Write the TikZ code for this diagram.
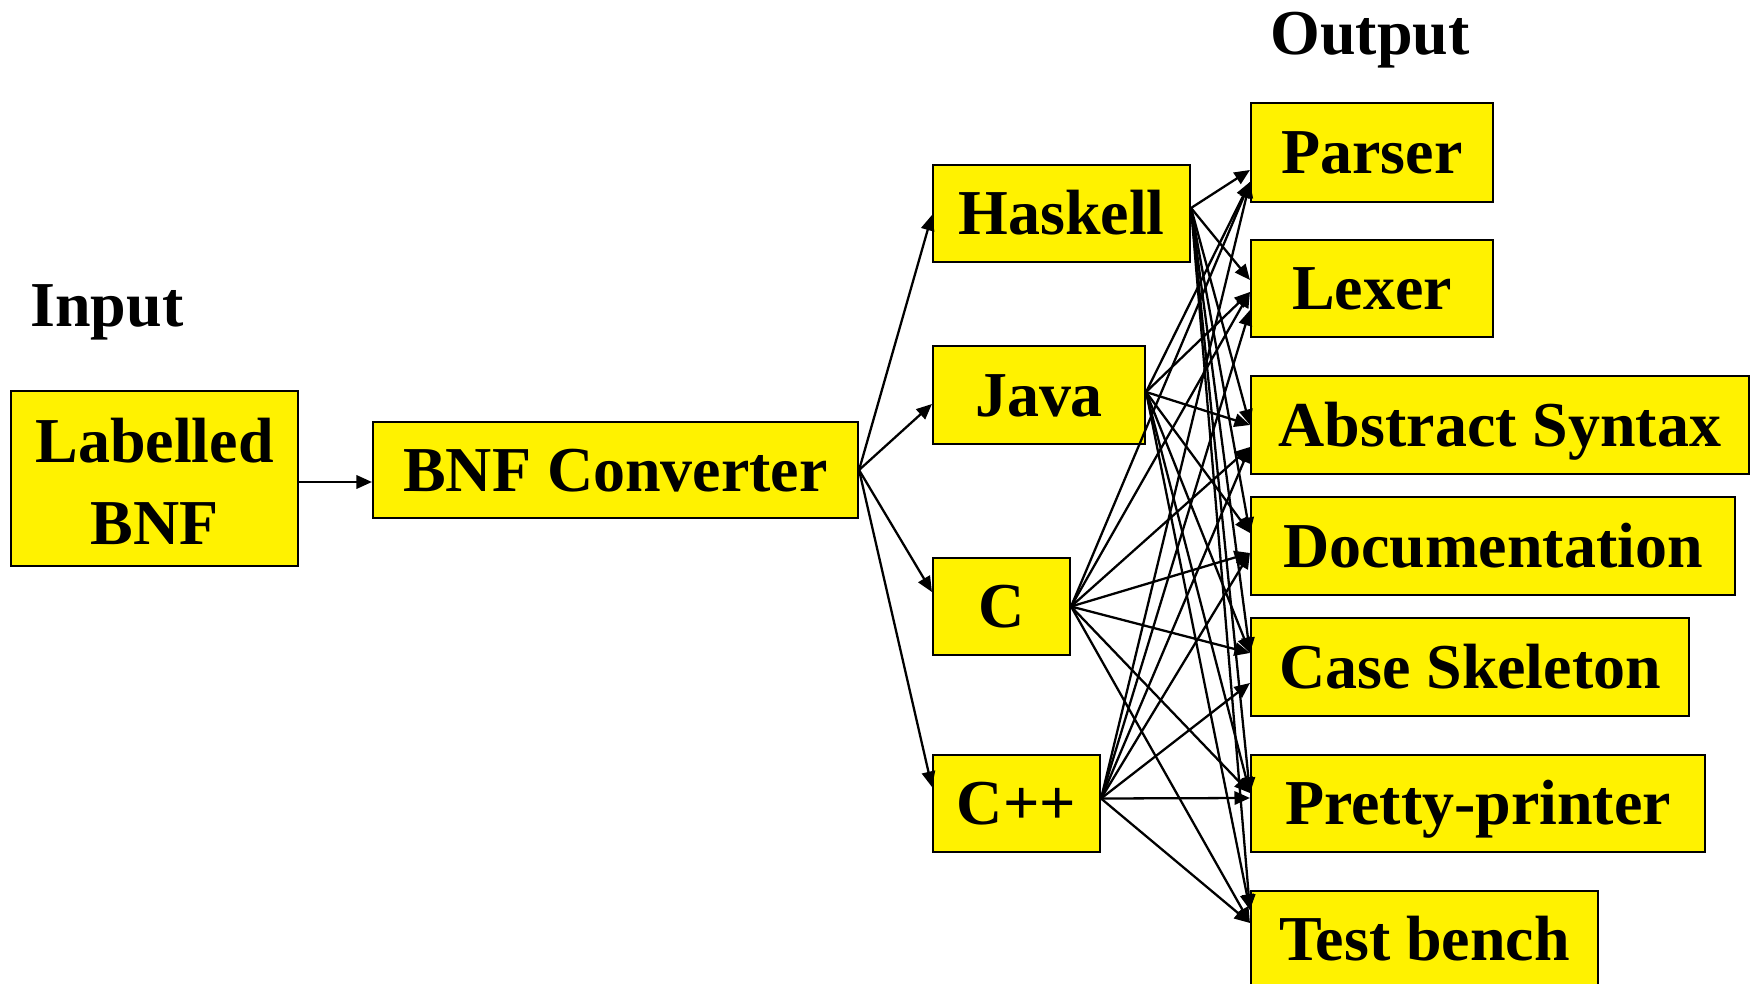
\documentclass[tikz,border=0pt]{standalone}
\usepackage{fontspec}
\setmainfont{Liberation Serif}
\usetikzlibrary{arrows.meta}
\begin{document}
\begin{tikzpicture}[x=0.1mm,y=-0.1mm,
  boxbase/.style={draw=black, line width=0.6pt, fill=yellow, inner sep=0pt,
    minimum height=9.7mm, font=\fontsize{18.2pt}{23.3pt}\selectfont\bfseries},
  box/.style={boxbase, text height=12pt, text depth=0pt},
  arr/.style={line width=0.65pt, -{Triangle[length=4.4pt,width=3.8pt]}},
  head/.style={anchor=base, inner sep=0pt, font=\fontsize{18.2pt}{23.3pt}\selectfont\bfseries}
]
\useasboundingbox (0,0) rectangle (1756,984);

% column titles
\node[head] (intitle)  at (107,327) {Input};
\node[head] (outtitle) at (1370,55) {Output};

% input and converter
\node[boxbase, minimum width=28.7mm, minimum height=17.5mm, align=center] (lbnf) at (154.5,478.5) {\rule{0pt}{14.4pt}Labelled\\BNF};
\node[box, minimum width=48.5mm, minimum height=9.6mm] (bnfc) at (615.5,470) {BNF Converter};

% target languages
\node[box, minimum width=25.7mm] (hask) at (1061.5,213.5) {Haskell};
\node[box, minimum width=21.2mm, minimum height=9.8mm] (java) at (1039,395) {Java};
\node[box, minimum width=13.7mm] (cc)   at (1001.5,606.5) {C};
\node[box, minimum width=16.7mm] (cpp)  at (1016.5,803.5) {C++};

% generated outputs
\node[box, minimum width=24.2mm, minimum height=9.9mm] (parser) at (1372,152.5) {Parser};
\node[box, minimum width=24.2mm] (lexer)  at (1372,288.5) {Lexer};
\node[box, minimum width=49.8mm, minimum height=9.8mm] (abs)    at (1500,425)   {Abstract Syntax};
\node[box, minimum width=48.4mm, minimum height=9.8mm] (doc)    at (1493,546)   {Documentation};
\node[box, minimum width=43.8mm, minimum height=9.8mm] (case)   at (1470,667)   {Case Skeleton};
\node[box, minimum width=45.4mm] (pretty) at (1478,803.5) {Pretty-printer};
\node[box, minimum width=34.7mm] (test)   at (1424.5,939.5) {Test bench};

% input to converter
\draw[arr] ([yshift=-0.35mm]lbnf.east) -- ([yshift=-0.35mm]lbnf.east -| bnfc.west);

% converter to languages
\draw[arr] (bnfc.east) -- ([yshift=-0.15mm]hask.west);
\draw[arr] (bnfc.east) -- ([yshift=-0.9mm]java.west);
\draw[arr] (bnfc.east) -- ([yshift=1.45mm]cc.west);
\draw[arr] (bnfc.east) -- ([yshift=1.65mm]cpp.west);

% languages to outputs
\foreach \t/\s in {parser/-1.75, lexer/0.85, abs/0, doc/1.3, case/1.4, pretty/1.05, test/2.95}
  \draw[arr] ([yshift=0.55mm]hask.east) -- ([yshift=\s mm]\t.west);
\foreach \t/\s in {parser/-2.95, lexer/-0.35, abs/0, doc/1.3, case/1.4, pretty/1.05, test/2.95}
  \draw[arr] ([yshift=0.3mm]java.east) -- ([yshift=\s mm]\t.west);
\foreach \t/\s in {parser/-2.95, lexer/-0.35, abs/-2.2, doc/-0.7, case/1.4, pretty/1.05, test/1.65}
  \draw[arr] (cc.east) -- ([yshift=\s mm]\t.west);
\foreach \t/\s in {parser/-2.95, lexer/-2.15, abs/-2.2, doc/-0.7, case/-1.6, pretty/0.55, test/1.65}
  \draw[arr] ([yshift=0.5mm]cpp.east) -- ([yshift=\s mm]\t.west);
\end{tikzpicture}
\end{document}
